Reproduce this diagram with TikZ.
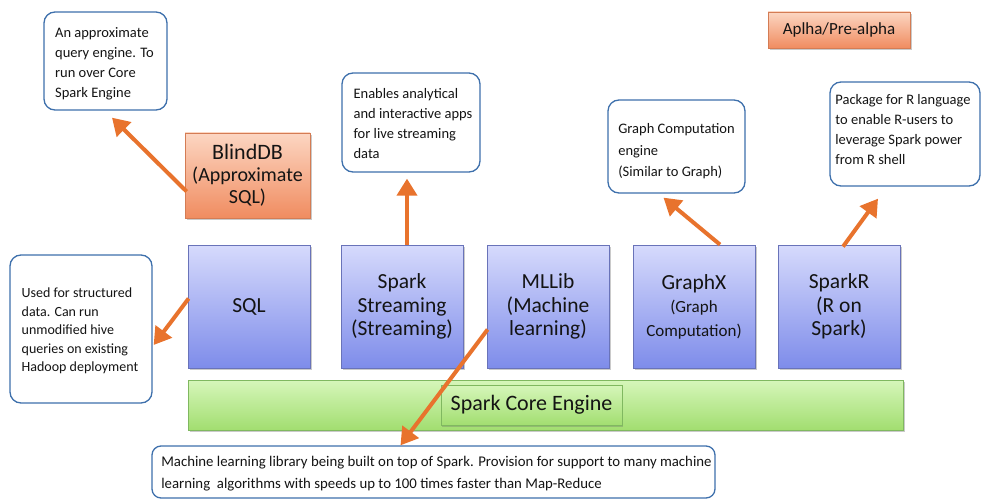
\documentclass[tikz,border=0pt]{standalone}
\usepackage{fontspec}
\setmainfont{Carlito}
\usetikzlibrary{arrows.meta,shadows,calc}
\definecolor{bluetop}{RGB}{214,218,252}
\definecolor{bluebot}{RGB}{126,140,234}
\definecolor{blueline}{RGB}{105,115,185}
\definecolor{greentop}{RGB}{214,246,186}
\definecolor{greenbot}{RGB}{162,222,112}
\definecolor{greenline}{RGB}{128,184,96}
\definecolor{orangetop}{RGB}{252,214,194}
\definecolor{orangebot}{RGB}{240,140,96}
\definecolor{orangeline}{RGB}{212,124,84}
\definecolor{callline}{RGB}{62,112,172}
\definecolor{arrorange}{RGB}{232,115,45}
\definecolor{txt}{RGB}{20,20,20}
\begin{document}
\begin{tikzpicture}[x=1pt,y=-1pt,
  shad/.style={drop shadow={shadow xshift=1.5pt,shadow yshift=-2pt,opacity=0.35,fill=black!60}},
  callout/.style={draw=callline,line width=1.3pt,rounded corners=11pt,fill=white,align=left,
    inner xsep=7pt,text=txt,font=\fontsize{14.5}{20}\selectfont},
  calltext/.style={align=left,inner sep=0pt,text=txt,font=\fontsize{14.5}{20}\selectfont},
  comp/.style={shad,draw=blueline,line width=0.8pt,top color=bluetop,bottom color=bluebot,
    minimum width=122pt,minimum height=123pt,align=center,text=txt,inner sep=2pt,
    font=\fontsize{21.5}{23.5}\selectfont},
  orangebox/.style={shad,draw=orangeline,line width=0.8pt,top color=orangetop,bottom color=orangebot,
    align=center,text=txt,inner sep=2pt},
  greenbox/.style={draw=greenline,line width=0.8pt,top color=greentop,bottom color=greenbot},
  arr/.style={draw=arrorange,line width=4pt,-{Triangle[width=20pt,length=17pt]}}
]
\useasboundingbox (0,0) rectangle (982,500);

% callouts
\node[callout,minimum width=123pt,minimum height=98pt] (qA) at (105.5,61) {};
\node[calltext] (qAt) at ($(qA.center)+(-1,2.5)$)
  {An approximate\\query engine. To\\run over Core\\Spark Engine};
\node[callout,minimum width=138pt,minimum height=99pt] (qB) at (411,122.5) {};
\node[calltext] (qBt) at ($(qB.center)+(2,1)$)
  {Enables analytical\\and interactive apps\\for live streaming\\data};
\node[callout,minimum width=137pt,minimum height=93pt] (qC) at (676.5,146.5) {};
\node[calltext,font=\fontsize{14.5}{21.5}\selectfont] (qCt) at ($(qC.center)+(0,5)$)
  {Graph Computation\\engine\\(Similar to Graph)};
\node[callout,minimum width=150pt,minimum height=104pt] (qD) at (905,134) {};
\node[calltext] (qDt) at ($(qD.center)+(-2,-4)$)
  {Package for R language\\to enable R-users to\\leverage Spark power\\from R shell};
\node[callout,minimum width=142pt,minimum height=148pt] (qE) at (81,329) {};
\node[calltext,font=\fontsize{14}{18.5}\selectfont] (qEt) at ($(qE.center)+(-1,2)$)
  {Used for structured\\data. Can run\\unmodified hive\\queries on existing\\Hadoop deployment};
\node[callout,minimum width=563pt,minimum height=52pt,rounded corners=9pt] (qF) at (433.5,472) {};
\node[calltext,font=\fontsize{14.8}{22}\selectfont] (qFt) at ($(qF.center)+(3,2)$)
  {Machine learning library being built on top of Spark. Provision for support to many machine\\learning\ \ algorithms with speeds up to 100 times faster than Map-Reduce};

% orange boxes
\node[orangebox,minimum width=125pt,minimum height=85pt,font=\fontsize{20}{22}\selectfont] (blind) at (247.5,175.5)
  {{\fontsize{22}{22}\selectfont BlindDB}\\(Approximate\\SQL)};
\node[orangebox,minimum width=142pt,minimum height=36pt,font=\fontsize{17}{20}\selectfont] (alpha) at (839,30)
  {Aplha/Pre-alpha};

% core engine
\node[greenbox,shad,minimum width=715pt,minimum height=50pt] (core) at (545.5,405) {};
\node[greenbox,drop shadow={shadow xshift=1pt,shadow yshift=-1.5pt,opacity=0.3,fill=black!60},
  minimum width=181pt,minimum height=40pt,text=txt,font=\fontsize{22}{24}\selectfont] (corelbl) at (531.5,405)
  {Spark Core Engine};

% components
\node[comp] (sql) at (249,306.5) {SQL};
\node[comp] (stream) at (402,306.5) {Spark\\Streaming\\(Streaming)};
\node[comp] (mllib) at (548,306.5) {MLLib\\(Machine\\learning)};
\node[comp] (graphx) at (694,306.5) {GraphX\\{\fontsize{17}{19}\selectfont (Graph}\\{\fontsize{17}{19}\selectfont Computation)}};
\node[comp] (sparkr) at (839,306.5) {SparkR\\(R on\\Spark)};

% arrows
\draw[arr] ($(blind.west)+(2,16)$) -- ($(qA.south)+(6.5,7)$);
\draw[arr] ($(stream.north)+(5,0)$) -- ($(qB.south)+(-4,6)$);
\draw[arr] ($(sql.west)+(1,-8)$) -- ($(qE.east)+(1,16)$);
\draw[arr] ($(mllib.west)+(1,23)$) -- ($(qF.north)+(-33,0)$);
\draw[arr] ($(graphx.north)+(26,0)$) -- ($(qC.south)+(-13,4)$);
\draw[arr] ($(sparkr.north)+(4,2)$) -- ($(qD.south)+(-27,12)$);
\end{tikzpicture}
\end{document}
